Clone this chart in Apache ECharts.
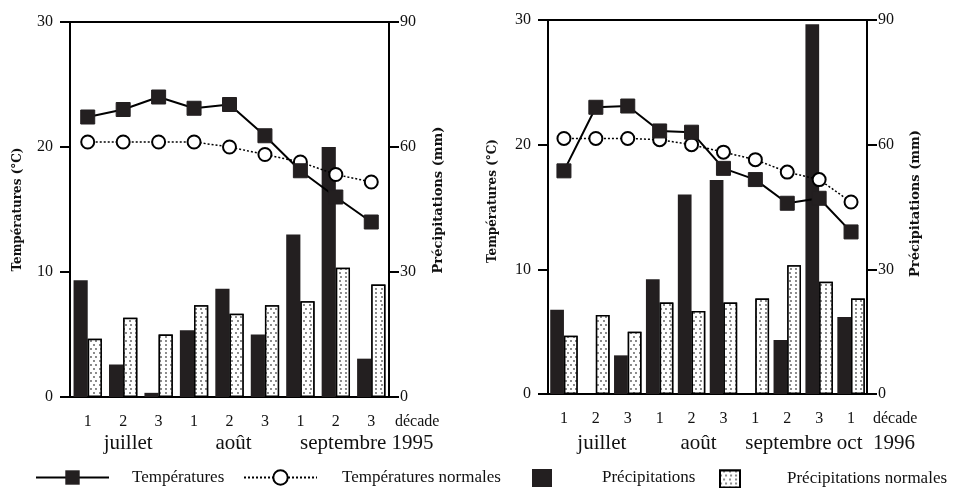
<!DOCTYPE html>
<html>
<head>
<meta charset="utf-8">
<script src="https://cdn.jsdelivr.net/npm/echarts@6/dist/echarts.min.js"></script>
<style>
html,body{margin:0;padding:0;background:#fff;}
#main{width:957px;height:488px;}
</style>
</head>
<body>
<div id="main"></div>
<script>
// ---- data ----
var decades1995 = ['1','2','3','1','2','3','1','2','3'];
var decades1996 = ['1','2','3','1','2','3','1','2','3','1'];
var temp1995 = [22.4, 23.0, 24.0, 23.1, 23.4, 20.9, 18.1, 16.0, 14.0];
var tempNorm1995 = [20.4, 20.4, 20.4, 20.4, 20.0, 19.4, 18.8, 17.8, 17.2];
var precip1995 = [28, 7.8, 1, 16, 26, 15, 39, 60, 9.2];
var precipNorm1995 = [14, 19, 15, 22, 20, 22, 23, 31, 27];
var temp1996 = [17.9, 23.0, 23.1, 21.1, 21.0, 18.1, 17.2, 15.3, 15.7, 13.0];
var tempNorm1996 = [20.5, 20.5, 20.5, 20.4, 20.0, 19.4, 18.8, 17.8, 17.2, 15.4];
var precip1996 = [20.3, 0, 9.3, 27.6, 48, 51.5, 0, 13, 89, 18.5];
var precipNorm1996 = [14, 19, 15, 22, 20, 22, 23, 31, 27, 23];
var tempTicks = [0, 10, 20, 30];
var precipTicks = [0, 30, 60, 90];
var months1995 = ['juillet', 'août', 'septembre 1995'];
var months1996 = ['juillet', 'août', 'septembre oct  1996'];
var names = ['Températures', 'Températures normales', 'Précipitations', 'Précipitations normales'];

var serif = '"Liberation Serif", "Times New Roman", serif';
var black = '#231f20';

var chart = echarts.init(document.getElementById('main'), null, {renderer: 'canvas'});

function xAxisFor(gi, cats) {
  return {
    type: 'category', gridIndex: gi, data: cats,
    boundaryGap: true,
    axisLine: {lineStyle: {color: '#000', width: 2}},
    axisTick: {alignWithLabel: true, length: 9, lineStyle: {color: '#000', width: 2}},
    axisLabel: {color: '#111', fontFamily: serif, fontSize: 16, margin: 17},
    name: 'décade', nameLocation: 'end', nameGap: 6,
    nameTextStyle: {color: '#111', fontFamily: serif, fontSize: 16, verticalAlign: 'top', padding: [17, 0, 0, 0]}
  };
}
function yTemp(gi, gap, shift) {
  return {
    type: 'value', gridIndex: gi, position: 'left', min: tempTicks[0], max: tempTicks[tempTicks.length - 1], interval: 10,
    splitLine: {show: false},
    axisLine: {show: true, lineStyle: {color: '#000', width: 2}},
    axisTick: {show: true, length: 10, lineStyle: {color: '#000', width: 2}},
    axisLabel: {color: '#111', fontFamily: serif, fontSize: 16, margin: 17},
    name: 'Températures (°C)', nameLocation: 'middle', nameRotate: 90, nameGap: gap,
    nameTextStyle: {color: '#111', fontFamily: '"DejaVu Serif", serif', fontWeight: 'bold', fontSize: 12, padding: [0, 0, 0, shift]}
  };
}
function yPrecip(gi, gap, shift) {
  return {
    type: 'value', gridIndex: gi, position: 'right', min: precipTicks[0], max: precipTicks[precipTicks.length - 1], interval: 30,
    splitLine: {show: false},
    axisLine: {show: true, lineStyle: {color: '#000', width: 2}},
    axisTick: {show: true, length: 10, lineStyle: {color: '#000', width: 2}},
    axisLabel: {color: '#111', fontFamily: serif, fontSize: 16, margin: 11},
    name: 'Précipitations (mm)', nameLocation: 'middle', nameRotate: 90, nameGap: gap,
    nameTextStyle: {color: '#111', fontFamily: '"DejaVu Serif", serif', fontWeight: 'bold', fontSize: 13, padding: [0, 0, 0, shift]}
  };
}
var decal = {
  symbol: 'circle', symbolSize: 0.9, color: '#555', backgroundColor: '#fff',
  dashArrayX: [[2, 3], [0, 2.5, 2, 0.5]], dashArrayY: [2, 1.2]
};
function seriesFor(gi, t, tn, p, pn, bw) {
  return [
    {name: names[2], type: 'bar', xAxisIndex: gi, yAxisIndex: gi * 2 + 1, data: p, barWidth: bw, barGap: '0%',
     itemStyle: {color: black}, z: 2},
    {name: names[3], type: 'bar', xAxisIndex: gi, yAxisIndex: gi * 2 + 1, data: pn, barWidth: bw, barGap: '0%',
     itemStyle: {color: '#fff', borderColor: '#000', borderWidth: 1.5, decal: decal}, z: 2},
    {name: names[1], type: 'line', xAxisIndex: gi, yAxisIndex: gi * 2, data: tn,
     symbol: 'circle', symbolSize: 13,
     lineStyle: {color: '#000', width: 1.5, type: [2, 2]},
     itemStyle: {color: '#fff', borderColor: '#000', borderWidth: 2}, z: 5},
    {name: names[0], type: 'line', xAxisIndex: gi, yAxisIndex: gi * 2, data: t,
     symbol: 'rect', symbolSize: 14,
     lineStyle: {color: '#000', width: 2},
     itemStyle: {color: black, borderColor: black}, z: 6}
  ];
}
function legendFor(name, left, w, h, pad, icon) {
  var l = {
    data: [name], left: left, top: 473 - h / 2, itemWidth: w, itemHeight: h,
    textStyle: {fontFamily: serif, fontSize: 17, color: '#111', padding: [0, 0, 0, pad]},
    selectedMode: false
  };
  if (icon) l.icon = icon;
  return l;
}

var option = {
  animation: false,
  backgroundColor: '#fff',
  grid: [
    {left: 70, top: 22, width: 319, height: 375, show: true, borderColor: '#000', borderWidth: 2},
    {left: 548, top: 20, width: 319, height: 374, show: true, borderColor: '#000', borderWidth: 2}
  ],
  xAxis: [xAxisFor(0, decades1995), xAxisFor(1, decades1996)],
  yAxis: [yTemp(0, 46, 0), yPrecip(0, 43, 19), yTemp(1, 49, 12), yPrecip(1, 42, 7)],
  legend: [
    legendFor(names[0], 30, 73, 18, 18),
    legendFor(names[1], 238, 73, 18, 20),
    legendFor(names[2], 527, 20, 18, 45, 'rect'),
    legendFor(names[3], 714, 20, 17, 42, 'rect')
  ],
  series: [].concat(
    seriesFor(0, temp1995, tempNorm1995, precip1995, precipNorm1995, '40%'),
    seriesFor(1, temp1996, tempNorm1996, precip1996, precipNorm1996, '43%')
  ),
  graphic: []
};
chart.setOption(option);

// month labels placed under the axes, positioned from the axis scale
function placeMonths(gi, months, centerIdx, extraShift) {
  var els = [];
  for (var i = 0; i < months.length; i++) {
    var px = chart.convertToPixel({xAxisIndex: gi}, centerIdx[i]) + extraShift[i];
    els.push({type: 'text', x: px, y: 443,
      style: {text: months[i], font: '21px ' + serif, fill: '#111', align: 'center', verticalAlign: 'middle'}});
  }
  return els;
}
var g = [].concat(
  placeMonths(0, months1995, [1, 4, 7], [5, 4, 31]),
  placeMonths(1, months1996, [1, 4, 8], [6, 7, 11])
);
chart.setOption({graphic: g});
</script>
</body>
</html>
